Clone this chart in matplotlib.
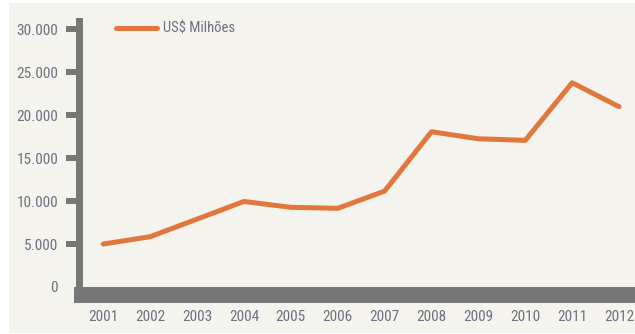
import matplotlib.pyplot as plt
from matplotlib.patches import Rectangle
from matplotlib import font_manager

# Série anual, em US$ milhões
anos = [2001, 2002, 2003, 2004, 2005, 2006, 2007, 2008, 2009, 2010, 2011, 2012]
valores = [5000, 5850, 7900, 9950, 9270, 9150, 11160, 18060, 17240, 17060, 23760, 20970]
yticks = [0, 5000, 10000, 15000, 20000, 25000, 30000]
ytick_labels = ["0", "5.000", "10.000", "15.000", "20.000", "25.000", "30.000"]
legenda = "US$ Milhões"

fundo = "#f5f3ee"
laranja = "#e2773d"
cinza = "#777777"
texto = "#6d7180"

nomes = {f.name for f in font_manager.fontManager.ttflist}
familias = [n for n in ["Roboto Condensed", "DejaVu Sans Condensed",
                        "Liberation Sans Narrow", "Open Sans Condensed"] if n in nomes]
plt.rcParams["font.family"] = familias + ["DejaVu Sans"]

W, H = 635, 334
fig = plt.figure(figsize=(W / 100, H / 100), dpi=100)
fig.patch.set_facecolor("white")
fig.patches.append(Rectangle((9 / W, 1 / H), 1 - 9 / W, 1 - 4 / H,
                             transform=fig.transFigure, facecolor=fundo,
                             edgecolor="none", zorder=-10))

ax = fig.add_axes([82 / W, (H - 287) / H, (W - 82) / W, (287 - 20.5) / H])
ax.patch.set_alpha(0)

ax.plot(anos, valores, color=laranja, lw=3.6, solid_capstyle="round",
        solid_joinstyle="round", label=legenda)

ax.set_xlim(2000.546, 2012.34)
ax.set_ylim(0, 31000)
ax.set_xticks(anos)
ax.set_xticklabels([str(a) for a in anos])
ax.set_yticks(yticks)
ax.set_yticklabels(ytick_labels)

for s in ["top", "right"]:
    ax.spines[s].set_visible(False)
ax.spines["left"].set_linewidth(5.0)
ax.spines["left"].set_color(cinza)
ax.spines["left"].set_position(("outward", 2.5))
ax.spines["bottom"].set_linewidth(11.5)
ax.spines["bottom"].set_color(cinza)
ax.spines["bottom"].set_position(("outward", 5.76))

ax.tick_params(axis="y", direction="out", length=9.7, width=4.3, color=cinza,
               pad=5, labelsize=11, labelcolor=texto)
ax.tick_params(axis="x", length=0, pad=10.5, labelsize=11, labelcolor=texto)
ax.yaxis.get_major_ticks()[0].tick1line.set_visible(False)

ax.legend(loc="center left", bbox_to_anchor=(116 / W, 1 - 29 / H),
          bbox_transform=fig.transFigure, frameon=False, borderpad=0,
          borderaxespad=0, handlelength=2.8, handletextpad=0.42,
          fontsize=10.5, labelcolor=texto)

fig.savefig("out.png", dpi=100, facecolor=fig.get_facecolor())
